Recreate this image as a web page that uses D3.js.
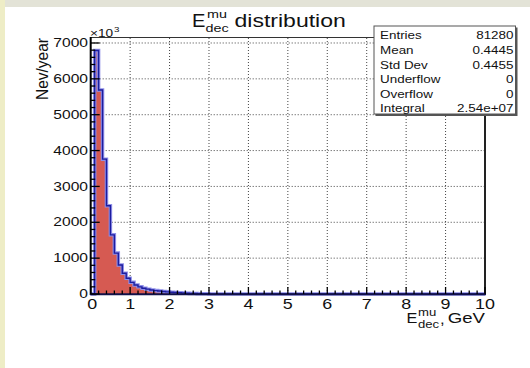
<!DOCTYPE html>
<html>
<head>
<meta charset="utf-8">
<script src="https://cdn.jsdelivr.net/npm/d3@7"></script>
<style>
html, body { margin: 0; padding: 0; background: #fff; }
svg { display: block; font-family: "Liberation Sans", Arial, sans-serif; }
</style>
</head>
<body>
<svg id="chart" width="530" height="368"></svg>
<script>
// contenu des bins (x10^3 evenements / an), bins de 0.1 GeV a partir de 0
const binWidth = 0.1;
const counts = [0, 6790, 5690, 3760, 2460, 1650, 1140, 810, 580, 440, 325,
                250, 200, 160, 135, 112, 95, 82, 70, 60, 50,
                42, 35, 28, 22, 17, 13, 10, 7, 5, 3];
const xTicks = [0, 1, 2, 3, 4, 5, 6, 7, 8, 9, 10];
const yTicks = [0, 1000, 2000, 3000, 4000, 5000, 6000, 7000];
const statNames = ["Entries", "Mean", "Std Dev", "Underflow", "Overflow", "Integral"];
const statValues = ["81280", "0.4445", "0.4455", "0", "0", "2.54e+07"];

const svg = d3.select("#chart");

// bandes du fond
svg.append("rect").attr("x", 0).attr("y", 0).attr("width", 530).attr("height", 7).attr("fill", "#e3e3d7");
svg.append("rect").attr("x", 0).attr("y", 0).attr("width", 5).attr("height", 368).attr("fill", "#eeedc6");

// echelles
const x = d3.scaleLinear().domain([0, 10]).range([90.7, 485]);
const y = d3.scaleLinear().domain([0, 7153]).range([294, 37.5]);

// texte etire horizontalement (l'image d'origine est deformee)
function txt(g, px, py, s, size, sx, anchor) {
    return g.append("text")
        .attr("transform", `translate(${px},${py}) scale(${sx},1)`)
        .attr("font-size", size)
        .attr("text-anchor", anchor || "start")
        .attr("fill", "#111")
        .text(s);
}

// grille pointillee
const grid = svg.append("g").attr("stroke", "#444").attr("stroke-width", 1).attr("stroke-dasharray", "1,2");
grid.selectAll("line.gx").data(xTicks.slice(1, -1)).join("line")
    .attr("x1", d => x(d)).attr("x2", d => x(d))
    .attr("y1", y.range()[0]).attr("y2", y.range()[1]);
grid.selectAll("line.gy").data(yTicks.slice(1)).join("line")
    .attr("y1", d => y(d)).attr("y2", d => y(d))
    .attr("x1", x.range()[0]).attr("x2", x.range()[1]);

// histogramme en escalier
const pts = [[0, 0]];
counts.forEach((c, i) => {
    pts.push([i * binWidth, c]);
    pts.push([(i + 1) * binWidth, c]);
});
pts.push([counts.length * binWidth, 0]);
pts.push([10, 0]);

svg.append("path")
    .datum(pts)
    .attr("fill", "#d65a52")
    .attr("d", d3.area().x(d => x(d[0])).y0(y(0)).y1(d => y(d[1])));

const line = d3.line().x(d => x(d[0])).y(d => y(d[1]));
svg.append("path").datum(pts)
    .attr("fill", "none").attr("stroke", "#8f8fe8").attr("stroke-width", 3.5)
    .attr("d", line);
svg.append("path").datum(pts)
    .attr("fill", "none").attr("stroke", "#1d1d9e").attr("stroke-width", 1.4)
    .attr("d", line);

// cadre
svg.append("line").attr("x1", x.range()[0]).attr("x2", x.range()[1]).attr("y1", 37.5).attr("y2", 37.5)
    .attr("stroke", "#333").attr("stroke-width", 1.2);
svg.append("line").attr("x1", 485).attr("x2", 485).attr("y1", 37.5).attr("y2", 295)
    .attr("stroke", "#222").attr("stroke-width", 2);
svg.append("line").attr("x1", 90.7).attr("x2", 90.7).attr("y1", 37).attr("y2", 295)
    .attr("stroke", "#000").attr("stroke-width", 2);
svg.append("line").attr("x1", 90).attr("x2", 486).attr("y1", 294.2).attr("y2", 294.2)
    .attr("stroke", "#12124a").attr("stroke-width", 2);

// graduations
const yMinor = d3.range(0, 7153, 200);
const xMinor = d3.range(0, 10.01, 0.2);
const ticks = svg.append("g").attr("stroke", "#000").attr("stroke-width", 1.3);
ticks.selectAll("line.ym").data(yMinor).join("line")
    .attr("x1", x(0)).attr("x2", d => x(0) + (d % 1000 === 0 ? 9 : 4.5))
    .attr("y1", d => y(d)).attr("y2", d => y(d));
ticks.selectAll("line.xm").data(xMinor).join("line")
    .attr("x1", d => x(d)).attr("x2", d => x(d))
    .attr("y1", y(0)).attr("y2", d => y(0) - (Math.abs(d - Math.round(d)) < 1e-6 ? 7 : 3.5));

// etiquettes des axes
const labels = svg.append("g");
yTicks.forEach(v => txt(labels, 88, y(v) + 4.2, String(v), 12, 1.3, "end"));
xTicks.forEach(v => txt(labels, x(v) + (v === 0 ? 1.5 : 0), 308.5, String(v), 14, 1.28, "middle"));
txt(labels, 90, 36.7, "\u00d710", 10.5, 1.3, "start");
txt(labels, 114, 31.7, "3", 7.5, 1.3, "start");

// titre de l'axe y
labels.append("text")
    .attr("transform", "translate(47.5,38) scale(1.3,1) rotate(-90)")
    .attr("font-size", 12.5)
    .attr("text-anchor", "end")
    .attr("textLength", 62)
    .attr("lengthAdjust", "spacingAndGlyphs")
    .attr("fill", "#111")
    .text("Nev/year");

// titre de l'axe x
txt(labels, 406.5, 323.3, "E", 15.5, 1.05, "start");
txt(labels, 418, 315.5, "mu", 10.5, 1.25, "start");
txt(labels, 418, 327.5, "dec", 10.5, 1.25, "start");
txt(labels, 440, 324, ",", 14, 1.2, "start");
txt(labels, 485, 323.3, "GeV", 15.5, 1.2, "end");

// titre
txt(labels, 192, 26.7, "E", 17.5, 1.15, "start");
txt(labels, 207, 18.3, "mu", 11.5, 1.25, "start");
txt(labels, 205.5, 31.5, "dec", 11.5, 1.25, "start");
txt(labels, 234.5, 26.7, "distribution", 18, 1.28, "start");

// boite de statistiques
const box = svg.append("g");
box.append("rect").attr("x", 375.5).attr("y", 27.5).attr("width", 142).attr("height", 88.5).attr("fill", "#555");
box.append("rect").attr("x", 374).attr("y", 26).attr("width", 141.5).attr("height", 88)
    .attr("fill", "#fff").attr("stroke", "#555").attr("stroke-width", 1);
statNames.forEach((s, i) => {
    txt(box, 380, 39.2 + i * 14.65, s, 10.5, 1.28, "start");
    txt(box, 513.5, 39.2 + i * 14.65, statValues[i], 10.5, 1.28, "end");
});
</script>
</body>
</html>
